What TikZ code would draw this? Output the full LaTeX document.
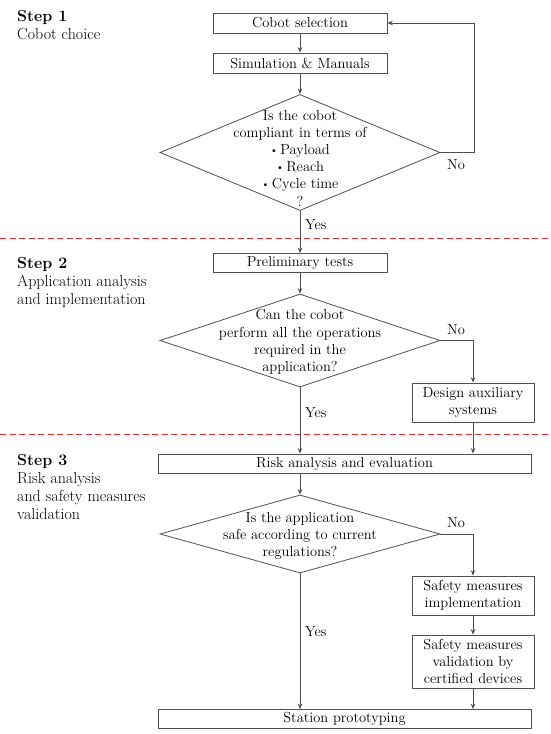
\documentclass[tikz,border=0pt]{standalone}
\usetikzlibrary{shapes.geometric,arrows.meta}
\definecolor{sepred}{RGB}{225,45,45}
\definecolor{lngray}{RGB}{80,80,80}
\newcommand{\smbul}{\raisebox{0.2ex}{\fontsize{10}{10}\selectfont\textbullet}\,}
\begin{document}
\begin{tikzpicture}[x=1pt,y=-1pt,
  font=\fontsize{14.5}{17.2}\selectfont,
  ln/.style={draw=lngray, line width=0.8pt},
  arr/.style={ln, -{Stealth[length=5.5pt,width=4.5pt]}},
  box/.style={draw=lngray, line width=0.8pt, fill=white, inner sep=1pt, align=center},
  dia/.style={diamond, draw=lngray, line width=0.8pt, inner sep=0pt, minimum width=280pt},
  lbl/.style={inner sep=0pt, anchor=west},
  sep/.style={color=sepred, line width=0.8pt, dash pattern=on 6pt off 3.5pt},
  stephead/.style={anchor=base west, inner sep=0pt, font=\fontsize{16}{18}\selectfont\bfseries},
  stepdesc/.style={anchor=north west, align=left, inner sep=0pt, font=\fontsize{16}{18.3}\selectfont}]
\useasboundingbox (0,0) rectangle (550,734);

% separators
\draw[sep] (0,238) -- (550,238);
\draw[sep] (0,434) -- (550,434);

% step labels
\node[stephead] (s1) at (17,21) {Step 1};
\node[stepdesc] (s1d) at (17,28.5) {Cobot choice};
\node[stephead] (s2) at (17,268) {Step 2};
\node[stepdesc] (s2d) at (17,275) {Application analysis\\and implementation};
\node[stephead] (s3) at (17,465) {Step 3};
\node[stepdesc] (s3d) at (17,472) {Risk analysis\\and safety measures\\validation};

% step 1
\node[box, minimum width=174pt, minimum height=20pt] (cs) at (300,23) {Cobot selection};
\node[box, minimum width=174pt, minimum height=20pt] (sim) at (300,63) {Simulation \& Manuals};
\node[dia, minimum height=116pt] (d1) at (300,152.5) {};
\node[align=center, inner sep=0pt] (t1) at (300,158) {Is the cobot\\compliant in terms of\\\smbul Payload\\\smbul Reach\\\smbul Cycle time\\?};
\coordinate (c1) at (474,152.5);
\coordinate (c2) at (474,23);
\draw[arr] (cs) -- (sim);
\draw[arr] (sim) -- (d1.north);
\draw[arr] (d1.east) -- (c1) -- (c2) -- (cs.east);
\node[lbl] (no1) at (447,165) {No};

% step 2
\node[box, minimum width=174pt, minimum height=19pt] (pt) at (300,263) {Preliminary tests};
\draw[arr] (d1.south) -- (pt.north);
\node[lbl] (yes1) at (305,225) {Yes};
\node[dia, minimum height=93pt] (d2) at (300,340.5) {};
\node[align=center, inner sep=0pt] (t2) at (300,342) {Can the cobot\\perform all the operations\\required in the\\application?};
\draw[arr] (pt) -- (d2.north);
\node[box, minimum width=122pt, minimum height=39pt] (das) at (473,402.5) {Design auxiliary\\systems};
\coordinate (c3) at (473,340.5);
\draw[arr] (d2.east) -- (c3) -- (das.north);
\node[lbl] (no2) at (447,330) {No};

% step 3
\node[box, minimum width=373pt, minimum height=19pt] (ra) at (344.5,463.5) {Risk analysis and evaluation};
\draw[arr] (d2.south) -- (d2.south |- ra.north);
\node[lbl] (yes2) at (305,413) {Yes};
\draw[arr] (das.south) -- (das.south |- ra.north);
\node[dia, minimum height=78pt] (d3) at (300,534) {};
\node[align=center, inner sep=0pt] (t3) at (300,536) {Is the application\\safe according to current\\regulations?};
\draw[arr] (d3.north |- ra.south) -- (d3.north);
\node[box, minimum width=122pt, minimum height=39pt] (smi) at (473,595.5) {Safety measures\\implementation};
\node[box, minimum width=122pt, minimum height=53pt] (smv) at (473,661.5) {Safety measures\\validation by\\certified devices};
\coordinate (c4) at (473,534);
\draw[arr] (d3.east) -- (c4) -- (smi.north);
\node[lbl] (no3) at (447,523) {No};
\draw[arr] (smi) -- (smv);
\node[box, minimum width=373pt, minimum height=19pt] (sp) at (344.5,719) {Station prototyping};
\draw[arr] (d3.south) -- (d3.south |- sp.north);
\node[lbl] (yes3) at (305,632) {Yes};
\draw[arr] (smv.south) -- (smv.south |- sp.north);
\end{tikzpicture}
\end{document}
